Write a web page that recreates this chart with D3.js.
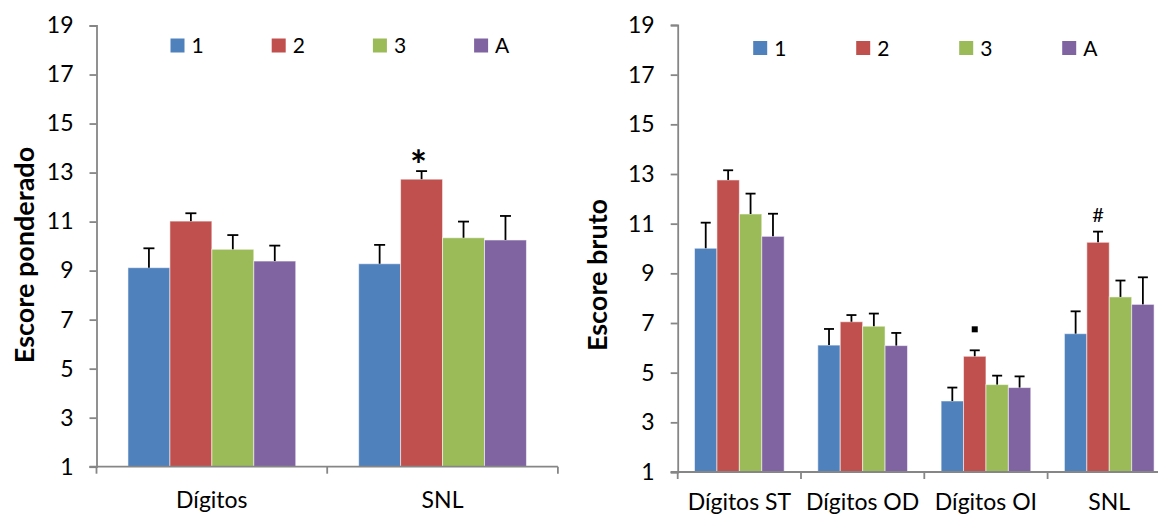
<!DOCTYPE html>
<html>
<head>
<meta charset="utf-8">
<script src="https://cdn.jsdelivr.net/npm/d3@7"></script>
<style>
  html, body { margin: 0; padding: 0; background: #fff; }
  svg { display: block; font-family: Lato, "Open Sans", sans-serif; }
</style>
</head>
<body>
<svg id="chart" width="1158" height="516"></svg>
<script>
// ---------------- DATA ----------------
const seriesNames = ["1", "2", "3", "A"];
const seriesColors = ["#4F81BD", "#C0504D", "#9BBB59", "#8064A2"];
const yTicks = [1, 3, 5, 7, 9, 11, 13, 15, 17, 19];

// Left chart: Escore ponderado
const leftCategories = ["Dígitos", "SNL"];
const leftS1 = [9.12, 9.28];
const leftS2 = [11.02, 12.73];
const leftS3 = [9.87, 10.34];
const leftSA = [9.39, 10.25];
const leftE1 = [0.79, 0.77];
const leftE2 = [0.32, 0.33];
const leftE3 = [0.58, 0.66];
const leftEA = [0.63, 0.98];
const leftMarks = [{cat: "SNL", series: "2", text: "*"}];

// Right chart: Escore bruto
const rightCategories = ["Dígitos ST", "Dígitos OD", "Dígitos OI", "SNL"];
const rightS1 = [10.01, 6.11, 3.86, 6.57];
const rightS2 = [12.76, 7.05, 5.66, 10.25];
const rightS3 = [11.39, 6.87, 4.52, 8.05];
const rightSA = [10.49, 6.09, 4.40, 7.75];
const rightE1 = [1.03, 0.65, 0.54, 0.90];
const rightE2 = [0.39, 0.27, 0.24, 0.43];
const rightE3 = [0.82, 0.51, 0.36, 0.66];
const rightEA = [0.91, 0.51, 0.45, 1.09];
const rightMarks = [{cat: "SNL", series: "2", text: "#"}, {cat: "Dígitos OI", series: "2", text: "▪"}];

// ---------------- DRAW ----------------
const svg = d3.select("#chart");
const axisColor = "#868686";

function build(cats, vals, errs) {
  const rows = [];
  cats.forEach((c, i) => {
    seriesNames.forEach((s, j) => {
      rows.push({cat: c, series: s, value: vals[j][i], err: errs[j][i], color: seriesColors[j]});
    });
  });
  return rows;
}

function drawChart(cfg) {
  const g = svg.append("g");
  const x = d3.scaleBand().domain(cfg.categories).range([cfg.x0, cfg.x0 + cfg.catWidth * cfg.categories.length]).padding(0);
  const cw = x.bandwidth();
  const barW = cw / 5.5;
  const xs = d3.scaleBand().domain(seriesNames).range([0.75 * barW, cw - 0.75 * barW]).padding(0);
  const y = d3.scaleLinear().domain([1, 19]).range([cfg.yBottom, cfg.yTop]);

  const rows = build(cfg.categories, cfg.values, cfg.errors);

  // bars
  g.selectAll("rect.bar").data(rows).enter().append("rect")
    .attr("class", "bar")
    .attr("x", d => x(d.cat) + xs(d.series))
    .attr("width", xs.bandwidth())
    .attr("y", d => y(d.value))
    .attr("height", d => y(1) - y(d.value))
    .attr("fill", d => d.color)
    .attr("stroke", "rgba(255,255,255,0.55)")
    .attr("stroke-width", 1);

  // error bars
  const eb = g.selectAll("g.err").data(rows).enter().append("g").attr("class", "err");
  eb.append("line")
    .attr("x1", d => x(d.cat) + xs(d.series) + xs.bandwidth() / 2)
    .attr("x2", d => x(d.cat) + xs(d.series) + xs.bandwidth() / 2)
    .attr("y1", d => y(d.value))
    .attr("y2", d => y(d.value + d.err))
    .attr("stroke", "#000").attr("stroke-width", 1.8);
  eb.append("line")
    .attr("x1", d => x(d.cat) + xs(d.series) + xs.bandwidth() / 2 - cfg.capW / 2)
    .attr("x2", d => x(d.cat) + xs(d.series) + xs.bandwidth() / 2 + cfg.capW / 2)
    .attr("y1", d => y(d.value + d.err))
    .attr("y2", d => y(d.value + d.err))
    .attr("stroke", "#000").attr("stroke-width", 1.8);

  // y axis
  const yAxis = d3.axisLeft(y).tickValues(yTicks).tickSize(7).tickPadding(16).tickFormat(d3.format("d"));
  const ya = g.append("g").attr("transform", `translate(${cfg.x0},0)`).call(yAxis);
  ya.select(".domain").attr("stroke", axisColor).attr("stroke-width", 1.8);
  ya.selectAll(".tick line").attr("stroke", axisColor).attr("stroke-width", 1.8);
  ya.selectAll(".tick text").attr("font-family", "Lato, 'Open Sans', sans-serif").attr("font-size", 23).attr("fill", "#000");

  // x axis (line + ticks at category boundaries)
  const xEnd = x.range()[1];
  g.append("line").attr("x1", cfg.x0 - 7).attr("x2", xEnd).attr("y1", y(1)).attr("y2", y(1))
    .attr("stroke", axisColor).attr("stroke-width", 1.8);
  const bounds = cfg.categories.map(c => x(c)).concat([xEnd]);
  g.selectAll("line.xt").data(bounds).enter().append("line")
    .attr("x1", d => d).attr("x2", d => d).attr("y1", y(1)).attr("y2", y(1) + 7)
    .attr("stroke", axisColor).attr("stroke-width", 1.8);
  g.selectAll("text.cat").data(cfg.categories).enter().append("text")
    .attr("x", d => x(d) + cw / 2).attr("y", cfg.catY)
    .attr("text-anchor", "middle").attr("font-size", 23).attr("fill", "#000")
    .text(d => d);

  // y title
  g.append("text")
    .attr("transform", `translate(${cfg.titleX},${cfg.titleY}) rotate(-90)`)
    .attr("text-anchor", "middle").attr("font-size", 27).attr("font-weight", "bold").attr("fill", "#000")
    .text(cfg.title);

  // legend
  const lg = g.selectAll("g.leg").data(seriesNames).enter().append("g")
    .attr("transform", (d, i) => `translate(${cfg.legX + i * cfg.legStep},${cfg.legY})`);
  lg.append("rect").attr("width", 14).attr("height", 14).attr("fill", (d, i) => seriesColors[i]);
  lg.append("text").attr("x", 21).attr("y", 14.5).attr("font-size", 21).attr("fill", "#000").text(d => d);

  // significance marks
  cfg.marks.forEach(m => {
    const r = rows.find(d => d.cat === m.cat && d.series === m.series);
    const cx = x(r.cat) + xs(r.series) + xs.bandwidth() / 2;
    const top = y(r.value + r.err);
    if (m.text === "▪") {
      g.append("rect").attr("x", cx - 3).attr("y", top - 24).attr("width", 6).attr("height", 6).attr("fill", "#000");
    } else if (m.text === "*") {
      g.append("text").attr("x", cx - 3).attr("y", top + 9).attr("text-anchor", "middle")
        .attr("font-size", 40).attr("font-weight", "bold").attr("fill", "#000").text(m.text);
    } else {
      g.append("text").attr("x", cx).attr("y", top - 10).attr("text-anchor", "middle")
        .attr("font-size", 20).attr("fill", "#000").text(m.text);
    }
  });
}

drawChart({
  categories: leftCategories,
  values: [leftS1, leftS2, leftS3, leftSA],
  errors: [leftE1, leftE2, leftE3, leftEA],
  marks: leftMarks,
  x0: 96.5, catWidth: 230.7, yTop: 25.5, yBottom: 466.7,
  capW: 11, catY: 508,
  title: "Escore ponderado", titleX: 34, titleY: 255,
  legX: 170.5, legStep: 101.2, legY: 38.5
});

drawChart({
  categories: rightCategories,
  values: [rightS1, rightS2, rightS3, rightSA],
  errors: [rightE1, rightE2, rightE3, rightEA],
  marks: rightMarks,
  x0: 677.7, catWidth: 123.3, yTop: 25, yBottom: 472,
  capW: 10, catY: 510,
  title: "Escore bruto", titleX: 607, titleY: 275,
  legX: 753.2, legStep: 103, legY: 41
});
</script>
</body>
</html>
